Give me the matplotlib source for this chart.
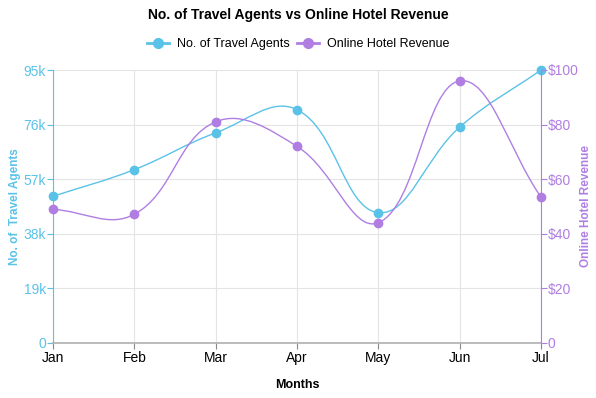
import matplotlib.pyplot as plt
from matplotlib.path import Path
from matplotlib.patches import PathPatch
import numpy as np

plt.rcParams['font.family'] = ['Liberation Sans', 'DejaVu Sans']

months = ["Jan", "Feb", "Mar", "Apr", "May", "Jun", "Jul"]
agents = [51000, 60300, 73100, 81200, 45300, 75100, 95000]
revenue = [48.9, 47.1, 81.0, 72.0, 44.0, 96.0, 53.4]

blue = '#5bc2e7'
purple = '#b07ee3'
grid_c = '#e4e4e4'


def spline_path(ax, xs, ys, tension=0.4):
    # chart.js style cubic curve, control points computed in pixel space
    pts = ax.transData.transform(np.column_stack([xs, ys]))
    n = len(pts)
    cps = []
    for i in range(n):
        cur = pts[i]
        prev = pts[i - 1] if i > 0 else cur
        nxt = pts[i + 1] if i < n - 1 else cur
        d01 = np.hypot(*(cur - prev))
        d12 = np.hypot(*(nxt - cur))
        tot = d01 + d12
        s01 = d01 / tot if tot else 0
        s12 = d12 / tot if tot else 0
        fa = tension * s01
        fb = tension * s12
        cps.append((cur - fa * (nxt - prev), cur + fb * (nxt - prev)))
    verts = [pts[0]]
    codes = [Path.MOVETO]
    for i in range(n - 1):
        verts += [cps[i][1], cps[i + 1][0], pts[i + 1]]
        codes += [Path.CURVE4] * 3
    verts = ax.transData.inverted().transform(np.array(verts))
    return Path(verts, codes)


fig = plt.figure(figsize=(5.96, 3.98), dpi=100)
ax = fig.add_axes([53 / 596, 1 - 342.7 / 398, (541 - 53) / 596, (342.7 - 70) / 398])
ax2 = ax.twinx()

x = np.arange(len(months))
ax.set_xlim(0, len(months) - 1)
ax.set_ylim(0, 95000)
ax2.set_ylim(0, 100)

ax.set_xticks(x)
ax.set_xticklabels(months)
ax.set_yticks([0, 19000, 38000, 57000, 76000, 95000])
ax.set_yticklabels(["0", "19k", "38k", "57k", "76k", "95k"])
ax2.set_yticks([0, 20, 40, 60, 80, 100])
ax2.set_yticklabels(["0", "$20", "$40", "$60", "$80", "$100"])

ax.grid(True, color=grid_c, linewidth=0.8)
ax.set_axisbelow(True)

for s in ['top']:
    ax.spines[s].set_visible(False)
    ax2.spines[s].set_visible(False)
ax.spines['left'].set_color(blue)
ax2.spines['left'].set_visible(False)
ax.spines['right'].set_visible(False)
ax2.spines['right'].set_color(purple)
ax.spines['bottom'].set_color('#b0b0b0')
ax.spines['bottom'].set_linewidth(1.2)
ax2.spines['bottom'].set_visible(False)

ax.tick_params(axis='y', colors=blue, labelsize=10, length=4, width=0.8, pad=1)
ax2.tick_params(axis='y', colors=purple, labelsize=10, length=4, width=0.8, pad=1)
ax.tick_params(axis='x', colors='#888888', labelcolor='black', labelsize=10, length=4, pad=2)

p1 = spline_path(ax, x, agents)
ax.add_patch(PathPatch(p1, facecolor='none', edgecolor=blue, linewidth=1.0, zorder=3))
ax.plot(x, agents, 'o', color=blue, markersize=6, clip_on=False, zorder=4)

p2 = spline_path(ax2, x, revenue)
ax2.add_patch(PathPatch(p2, facecolor='none', edgecolor=purple, linewidth=1.0, zorder=3))
ax2.plot(x, revenue, 'o', color=purple, markersize=6, clip_on=False, zorder=4)

ax.set_ylabel("No. of  Travel Agents", color=blue, fontsize=8.5, fontweight='bold', labelpad=2)
ax2.set_ylabel("Online Hotel Revenue", color=purple, fontsize=8.5, fontweight='bold', labelpad=1)
ax.set_xlabel("Months", fontsize=9, fontweight='bold', labelpad=10)

fig.text(0.5, 1 - 15 / 398, "No. of Travel Agents vs Online Hotel Revenue",
         ha='center', va='center', fontsize=10, fontweight='bold')

h1, = ax.plot([], [], '-o', color=blue, linewidth=2, markersize=7)
h2, = ax.plot([], [], '-o', color=purple, linewidth=2, markersize=7)
fig.legend([h1, h2], ["No. of Travel Agents", "Online Hotel Revenue"],
           loc='center', bbox_to_anchor=(0.5, 1 - 44 / 398), ncol=2, frameon=False,
           fontsize=9, handlelength=1.8, columnspacing=0.6, handletextpad=0.6)

fig.savefig("out.png", dpi=100)
